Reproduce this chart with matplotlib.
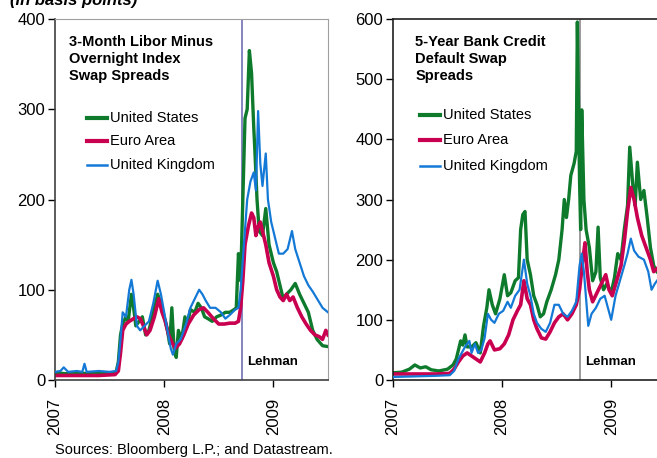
"""
Libor-OIS and bank CDS spreads, US / Euro Area / UK (2007-2009)
"""

import matplotlib.pyplot as plt

plt.rcParams['font.family'] = ['Liberation Sans', 'DejaVu Sans']

# ---- data (fractional years, basis points) ----
# left panel: 3-month Libor minus OIS
lo_us_t = [2007.00, 2007.10, 2007.20, 2007.30, 2007.40, 2007.50, 2007.56, 2007.58, 2007.60, 2007.62,
           2007.65, 2007.67, 2007.70, 2007.72, 2007.74, 2007.77, 2007.80, 2007.83, 2007.86, 2007.90,
           2007.94, 2007.97, 2008.00, 2008.03, 2008.05, 2008.07, 2008.09, 2008.11, 2008.13, 2008.16,
           2008.19, 2008.21, 2008.24, 2008.28, 2008.31, 2008.34, 2008.37, 2008.40, 2008.44, 2008.48,
           2008.52, 2008.56, 2008.60, 2008.64, 2008.66, 2008.68, 2008.70, 2008.72, 2008.74, 2008.76,
           2008.78, 2008.80, 2008.82, 2008.83, 2008.85, 2008.87, 2008.90, 2008.93, 2008.96, 2009.00,
           2009.03, 2009.06, 2009.09, 2009.12, 2009.16, 2009.20, 2009.24, 2009.28, 2009.32, 2009.36,
           2009.40, 2009.45, 2009.50]
lo_us = [8, 7, 8, 7, 8, 7, 9, 20, 50, 62,
         70, 65, 95, 80, 60, 65, 70, 50, 55, 75,
         95, 85, 70, 55, 40, 80, 35, 25, 55, 45,
         70, 60, 78, 75, 85, 80, 70, 68, 65, 70,
         72, 75, 75, 78, 80, 140, 110, 200, 290, 300,
         365, 340, 280, 255, 200, 165, 160, 190, 150, 130,
         120, 105, 90, 95, 100, 107, 95, 85, 75, 55,
         45, 38, 37]

lo_eu_t = [2007.00, 2007.20, 2007.40, 2007.55, 2007.58, 2007.60, 2007.62, 2007.65, 2007.68, 2007.72,
           2007.75, 2007.78, 2007.81, 2007.84, 2007.87, 2007.91, 2007.95, 2007.98, 2008.01, 2008.04,
           2008.07, 2008.10, 2008.14, 2008.18, 2008.22, 2008.27, 2008.32, 2008.36, 2008.40, 2008.45,
           2008.50, 2008.55, 2008.60, 2008.65, 2008.68, 2008.70, 2008.72, 2008.74, 2008.77, 2008.80,
           2008.82, 2008.84, 2008.86, 2008.88, 2008.90, 2008.93, 2008.96, 2009.00, 2009.03, 2009.06,
           2009.09, 2009.12, 2009.15, 2009.18, 2009.22, 2009.26, 2009.30, 2009.34, 2009.38, 2009.42,
           2009.45, 2009.48, 2009.50]
lo_eu = [5, 5, 5, 6, 10, 30, 55, 62, 65, 68,
         70, 68, 60, 50, 55, 70, 90, 75, 65, 50,
         42, 35, 40, 50, 62, 72, 78, 80, 75, 68,
         62, 62, 63, 63, 65, 80, 110, 150, 170, 185,
         180, 160, 170, 175, 165, 150, 130, 115, 100, 92,
         88, 95, 88, 92, 80, 70, 62, 55, 50, 48,
         45, 55, 50]

lo_uk_t = [2007.00, 2007.05, 2007.08, 2007.12, 2007.20, 2007.25, 2007.27, 2007.29, 2007.40, 2007.50,
           2007.56, 2007.58, 2007.60, 2007.62, 2007.65, 2007.68, 2007.70, 2007.72, 2007.75, 2007.78,
           2007.82, 2007.86, 2007.90, 2007.94, 2007.97, 2008.00, 2008.03, 2008.06, 2008.08, 2008.11,
           2008.15, 2008.20, 2008.24, 2008.28, 2008.32, 2008.35, 2008.38, 2008.42, 2008.47, 2008.52,
           2008.56, 2008.60, 2008.65, 2008.68, 2008.70, 2008.73, 2008.76, 2008.79, 2008.82, 2008.84,
           2008.86, 2008.88, 2008.90, 2008.93, 2008.95, 2008.98, 2009.01, 2009.05, 2009.09, 2009.13,
           2009.15, 2009.17, 2009.20, 2009.24, 2009.28, 2009.32, 2009.36, 2009.40, 2009.45, 2009.50]
lo_uk = [9, 10, 14, 9, 10, 9, 18, 9, 10, 9,
         10, 20, 45, 75, 70, 100, 111, 95, 60, 55,
         60, 65, 85, 110, 95, 75, 55, 35, 28, 40,
         45, 62, 80, 90, 100, 95, 88, 80, 80, 75,
         68, 72, 78, 80, 100, 150, 200, 220, 230, 210,
         298, 240, 215, 251, 200, 175, 160, 140, 140, 145,
         155, 165, 145, 130, 115, 105, 98, 90, 80, 75]

# right panel: 5-year bank CDS
cds_us_t = [2007.00, 2007.08, 2007.15, 2007.20, 2007.25, 2007.30, 2007.35, 2007.42, 2007.50, 2007.55,
            2007.58, 2007.60, 2007.62, 2007.64, 2007.66, 2007.68, 2007.72, 2007.76, 2007.80, 2007.83,
            2007.86, 2007.88, 2007.91, 2007.94, 2007.98, 2008.02, 2008.05, 2008.08, 2008.12, 2008.15,
            2008.17, 2008.19, 2008.21, 2008.23, 2008.26, 2008.29, 2008.32, 2008.35, 2008.38, 2008.41,
            2008.45, 2008.49, 2008.52, 2008.55, 2008.57, 2008.59, 2008.61, 2008.63, 2008.66, 2008.68,
            2008.69, 2008.71, 2008.72, 2008.73, 2008.75, 2008.77, 2008.80, 2008.83, 2008.86, 2008.88,
            2008.90, 2008.93, 2008.96, 2009.00, 2009.03, 2009.06, 2009.09, 2009.12, 2009.15, 2009.17,
            2009.20, 2009.22, 2009.24, 2009.27, 2009.30, 2009.33, 2009.36, 2009.39, 2009.42]
cds_us = [12, 13, 18, 25, 20, 22, 17, 15, 18, 25,
          35, 50, 65, 58, 75, 55, 55, 62, 45, 90,
          120, 150, 125, 110, 135, 175, 140, 145, 165, 170,
          250, 275, 280, 200, 175, 140, 125, 105, 110, 130,
          150, 175, 200, 250, 300, 270, 300, 340, 360, 380,
          595, 330, 250, 449, 300, 250, 220, 165, 180, 254,
          170, 150, 160, 145, 170, 210, 200, 250, 290, 387,
          320, 290, 362, 300, 315, 270, 220, 190, 180]

cds_eu_t = [2007.00, 2007.20, 2007.40, 2007.52, 2007.56, 2007.60, 2007.64, 2007.68, 2007.72, 2007.76,
            2007.80, 2007.84, 2007.87, 2007.89, 2007.93, 2007.98, 2008.02, 2008.06, 2008.10, 2008.14,
            2008.17, 2008.20, 2008.23, 2008.26, 2008.29, 2008.32, 2008.36, 2008.40, 2008.44, 2008.48,
            2008.52, 2008.56, 2008.60, 2008.64, 2008.68, 2008.71, 2008.74, 2008.76, 2008.78, 2008.80,
            2008.83, 2008.87, 2008.91, 2008.95, 2008.98, 2009.01, 2009.05, 2009.09, 2009.12, 2009.15,
            2009.18, 2009.21, 2009.24, 2009.28, 2009.32, 2009.36, 2009.39, 2009.42]
cds_eu = [10, 10, 10, 11, 18, 30, 40, 45, 40, 35,
          30, 45, 60, 65, 50, 52, 60, 75, 100, 115,
          125, 165, 135, 125, 100, 85, 70, 68, 80, 95,
          105, 110, 100, 110, 125, 150, 200, 228, 180, 150,
          130, 145, 160, 175, 150, 140, 165, 190, 230, 280,
          320, 300, 270, 240, 220, 200, 180, 185]

cds_uk_t = [2007.00, 2007.20, 2007.40, 2007.52, 2007.56, 2007.60, 2007.63, 2007.66, 2007.70, 2007.72,
            2007.75, 2007.78, 2007.81, 2007.84, 2007.87, 2007.90, 2007.93, 2007.97, 2008.01, 2008.05,
            2008.08, 2008.12, 2008.16, 2008.20, 2008.23, 2008.26, 2008.29, 2008.32, 2008.36, 2008.40,
            2008.44, 2008.48, 2008.52, 2008.56, 2008.60, 2008.64, 2008.68, 2008.71, 2008.73, 2008.75,
            2008.77, 2008.79, 2008.82, 2008.86, 2008.90, 2008.94, 2008.97, 2009.00, 2009.04, 2009.08,
            2009.12, 2009.15, 2009.18, 2009.21, 2009.25, 2009.30, 2009.34, 2009.37, 2009.40, 2009.42]
cds_uk = [5, 6, 7, 8, 15, 35, 45, 55, 65, 45,
          60, 45, 50, 70, 110, 100, 95, 110, 115, 130,
          120, 140, 150, 200, 160, 140, 110, 95, 85, 80,
          95, 125, 125, 110, 105, 115, 130, 190, 210, 180,
          135, 90, 110, 120, 135, 140, 120, 100, 140, 165,
          190, 210, 235, 215, 205, 200, 180, 150, 160, 165]

lehman = 2008.71
years = [2007, 2008, 2009]
series_names = ['United States', 'Euro Area', 'United Kingdom']

green = '#0E7A2C'
red = '#C8004F'
blue = '#1479D6'

fig = plt.figure(figsize=(6.57, 4.58), dpi=100)
ax1 = fig.add_axes([55/657, 1 - 380/458, 273/657, 361/458])
ax2 = fig.add_axes([393/657, 1 - 380/458, 264/657, 361/458])


def style_axis(ax, ymax, xmax, lehman_color):
    ax.set_xlim(2007, xmax)
    ax.set_ylim(0, ymax)
    ax.set_xticks(years)
    ax.set_xticklabels([str(y) for y in years], rotation=90, fontsize=12)
    ax.tick_params(axis='y', labelsize=12, length=5, width=1, direction='out', pad=2)
    ax.tick_params(axis='x', length=5, width=1, direction='out', pad=8)
    ax.axvline(lehman, color=lehman_color, lw=1.2, zorder=1)
    ax.text(lehman + 0.05, ymax * 0.05, 'Lehman', fontsize=9.5, fontweight='bold',
            va='center', ha='left')


# left panel
ax1.plot(lo_us_t, lo_us, color=green, lw=2.4, zorder=2)
ax1.plot(lo_eu_t, lo_eu, color=red, lw=2.6, zorder=2.5)
ax1.plot(lo_uk_t, lo_uk, color=blue, lw=1.6, zorder=3)
style_axis(ax1, 400, 2009.5, '#6F6FB5')
ax1.set_yticks([0, 100, 200, 300, 400])
for s in ['top', 'right']:
    ax1.spines[s].set_color('#A0A0A0')
for s in ['left', 'bottom']:
    ax1.spines[s].set_color('#404040')
    ax1.spines[s].set_linewidth(1.2)
ax1.text(0.05, 0.955, '3-Month Libor Minus\nOvernight Index\nSwap Spreads', transform=ax1.transAxes,
         fontsize=10.5, fontweight='bold', va='top', ha='left', linespacing=1.25)

# right panel
ax2.plot(cds_us_t, cds_us, color=green, lw=2.4, zorder=2)
ax2.plot(cds_eu_t, cds_eu, color=red, lw=2.6, zorder=2.5)
ax2.plot(cds_uk_t, cds_uk, color=blue, lw=1.6, zorder=3)
style_axis(ax2, 600, 2009.42, '#8A8A8A')
ax2.set_yticks([0, 100, 200, 300, 400, 500, 600])
ax2.spines['right'].set_visible(False)
for s in ['left', 'bottom', 'top']:
    ax2.spines[s].set_color('#202020')
    ax2.spines[s].set_linewidth(1.2)
ax2.text(0.085, 0.955, '5-Year Bank Credit\nDefault Swap\nSpreads', transform=ax2.transAxes,
         fontsize=10.5, fontweight='bold', va='top', ha='left', linespacing=1.25)

# legends drawn by hand inside each panel
for x0, rows in [(87, [118, 141, 165]), (420, [115, 140, 166])]:
    for name, color, lw, yp in zip(series_names, [green, red, blue], [3, 3, 1.8], rows):
        yf = 1 - yp / 458
        fig.add_artist(plt.Line2D([x0 / 657, (x0 + 20) / 657], [yf, yf], color=color, lw=lw,
                                  transform=fig.transFigure))
        fig.text((x0 + 23) / 657, yf, name, fontsize=10.5, va='center', ha='left')

fig.text(10 / 657, 1 - 5 / 458, '(in basis points)', fontsize=12, fontweight='bold',
         fontstyle='italic', va='baseline', ha='left')
fig.text(55 / 657, 1 - 450 / 458, 'Sources: Bloomberg L.P.; and Datastream.', fontsize=10.5,
         va='center', ha='left')

fig.savefig('out.png', dpi=100)
